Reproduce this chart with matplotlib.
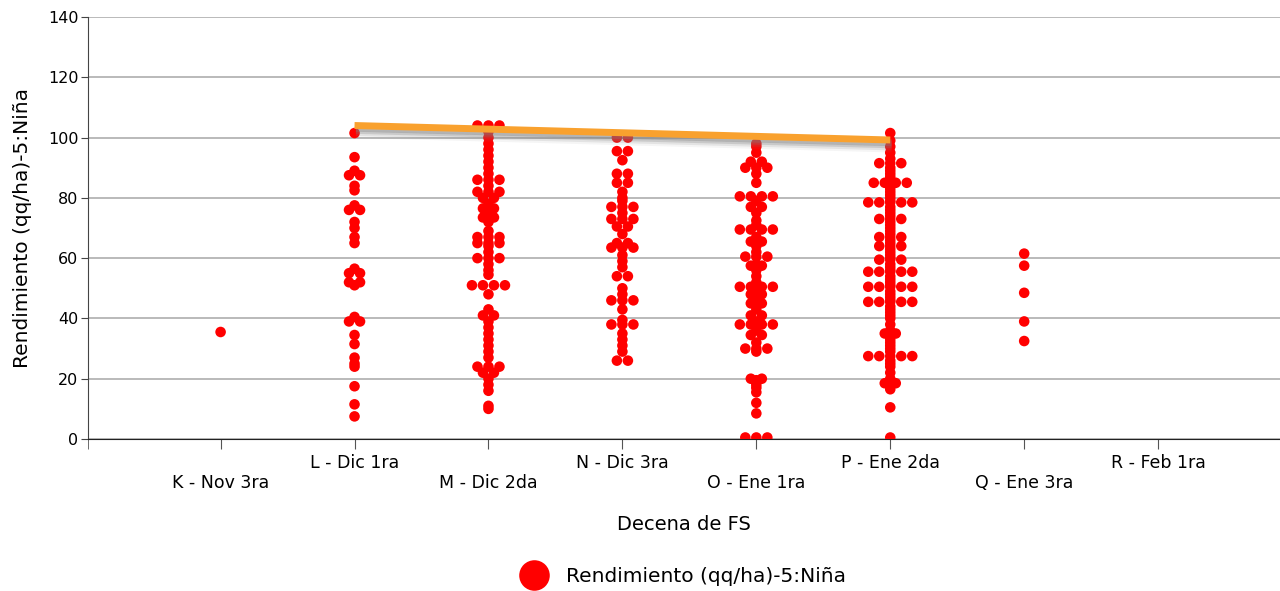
import numpy as np
import matplotlib
matplotlib.use("Agg")
import matplotlib.pyplot as plt
from matplotlib.lines import Line2D
import matplotlib.patheffects as pe
from collections import Counter

categories = ["K - Nov 3ra", "L - Dic 1ra", "M - Dic 2da", "N - Dic 3ra",
              "O - Ene 1ra", "P - Ene 2da", "Q - Ene 3ra", "R - Feb 1ra"]

vals_K = [35.5]
vals_L = [101.5, 93.5, 89, 87.5, 87.5, 84, 82.5, 77.5, 76, 76, 72, 70, 67, 65,
          56.5, 55, 55, 52, 52, 51, 40.5, 39, 39, 34.5, 31.5, 27, 25, 24, 17.5, 11.5, 7.5]
vals_M = [104, 104, 104, 102, 100, 98, 96, 94, 92, 90, 88, 86, 86, 86, 84, 82, 82, 82,
          80, 80, 78, 76.5, 76.5, 75, 73.5, 73.5, 72, 69, 67, 67, 67, 65, 65, 65, 64, 62,
          60, 60, 60, 58, 56, 54.5, 51, 51, 51, 51, 48, 43, 41, 41, 39, 37, 35, 33, 31,
          29, 27, 24, 24, 24, 22, 22, 20, 18, 16, 11, 10]
vals_N = [100, 100, 95.5, 95.5, 92.5, 88, 88, 85, 85, 82, 80, 79, 77, 77, 77, 75, 73, 73,
          73, 70.5, 70.5, 68, 65, 65, 63.5, 63.5, 63.5, 61, 59, 57, 54, 54, 50, 48, 46, 46,
          46, 43, 39.5, 38, 38, 38, 35, 33, 31, 29, 26, 26]
vals_O = [98, 97, 95, 92, 92, 90, 90, 90, 88, 85, 80.5, 80.5, 80.5, 80.5, 79, 77, 77, 75,
          72.5, 71, 69.5, 69.5, 69.5, 69.5, 67, 65.5, 65.5, 64, 62, 60.5, 60.5, 60.5, 58,
          57.5, 57.5, 56, 54, 52, 50.5, 50.5, 50.5, 50.5, 49, 48, 48, 46, 45, 45, 43, 41,
          41, 39, 38, 38, 38, 38, 36, 34.5, 34.5, 32, 30, 30, 30, 29, 20, 20, 19.5, 19, 18,
          17, 15.5, 12, 8.5, 0.5, 0.5, 0.5]
vals_P = [101.5, 99, 97, 95, 93, 91.5, 91.5, 91.5, 90, 89, 88, 87, 86, 85, 85, 85, 85, 84,
          83, 82, 81, 80, 79, 78.5, 78.5, 78.5, 78.5, 78.5, 77, 76, 75, 74, 73, 73, 73, 72,
          71, 70, 69, 68, 67, 67, 67, 66, 65, 64, 64, 64, 63, 62, 61, 60, 59.5, 59.5, 59.5,
          58, 57, 56, 55.5, 55.5, 55.5, 55.5, 55.5, 54, 53, 52, 51, 50.5, 50.5, 50.5, 50.5,
          50.5, 49, 48, 47, 46, 45.5, 45.5, 45.5, 45.5, 45.5, 44, 43, 42, 41, 40, 38, 36,
          35, 35, 34, 33, 32, 31, 30, 29, 27.5, 27.5, 27.5, 27.5, 27.5, 26, 25, 24, 22, 20,
          18.5, 18.5, 16.5, 10.5, 0.5]
vals_Q = [61.5, 57.5, 48.5, 39, 32.5]
vals_R = []

series = [vals_K, vals_L, vals_M, vals_N, vals_O, vals_P, vals_Q, vals_R]

trend_cats = [1, 5]
trend_vals = [104.0, 99.2]

W, H = 1280, 591
fig = plt.figure(figsize=(W / 100, H / 100), dpi=100)
ax_l, ax_r, ax_t, ax_b = 88, 1280, 17, 439
ax = fig.add_axes([ax_l / W, 1 - ax_b / H, (ax_r - ax_l) / W, (ax_b - ax_t) / H])
xmin, xmax = -0.99, 7.91
ymin, ymax = 0, 140
ax.set_xlim(xmin, xmax)
ax.set_ylim(ymin, ymax)

px_x = (ax_r - ax_l) / (xmax - xmin)

def spread(values, step_px=11.0):
    """Spread identical values symmetrically around the category centre."""
    counts = Counter(values)
    seen = Counter()
    offs = []
    for v in values:
        n = counts[v]
        k = seen[v]
        seen[v] += 1
        offs.append((k - (n - 1) / 2) * step_px / px_x)
    return offs

for i, vals in enumerate(series):
    if not vals:
        continue
    offs = spread(vals)
    xs = [i + o for o in offs]
    ax.scatter(xs, vals, s=58, color="#FF0000", edgecolors="none", zorder=3)

shadows = [pe.SimpleLineShadow(offset=(1.0, -d), shadow_color="#808080", alpha=a)
           for d, a in [(2, 0.35), (3.5, 0.25), (5, 0.15), (6.5, 0.08)]]
ax.plot(trend_cats, trend_vals, color="#F9A12E", lw=5, solid_capstyle="butt", zorder=4,
        path_effects=shadows + [pe.Normal()])

ax.set_yticks(np.arange(0, 141, 20))
ax.yaxis.grid(True, color="#b4b4b4", lw=1.3)
ax.set_axisbelow(True)
for s in ["top", "right"]:
    ax.spines[s].set_visible(False)
ax.spines["left"].set_color("#444444")
ax.spines["bottom"].set_color("#222222")
ax.tick_params(axis="y", length=5, color="#444444", labelsize=11.5, pad=2)
ax.set_xticks(range(len(categories)))
ax.set_xticklabels([])
ax.set_xticks([xmin], minor=True)
ax.tick_params(axis="x", which="both", length=7, color="#555555")

for i, c in enumerate(categories):
    ypx = 483 if i % 2 == 0 else 463
    ax.text(i, (ax_b - ypx) / (ax_b - ax_t), c, transform=ax.get_xaxis_transform(),
            ha="center", va="center", fontsize=12.5)

ax.set_ylabel("Rendimiento (qq/ha)-5:Niña", fontsize=14.5, labelpad=11)
fig.text(684 / W, 1 - 524 / H, "Decena de FS", ha="center", va="center", fontsize=14)

handle = Line2D([], [], marker="o", color="none", markerfacecolor="#FF0000",
                markeredgecolor="none", markersize=22)
fig.legend([handle], ["Rendimiento (qq/ha)-5:Niña"], loc="center",
           bbox_to_anchor=(684 / W, 1 - 577 / H), frameon=False, fontsize=14.5,
           handletextpad=1.0, handlelength=1.2)

fig.savefig("out.png", dpi=100)
